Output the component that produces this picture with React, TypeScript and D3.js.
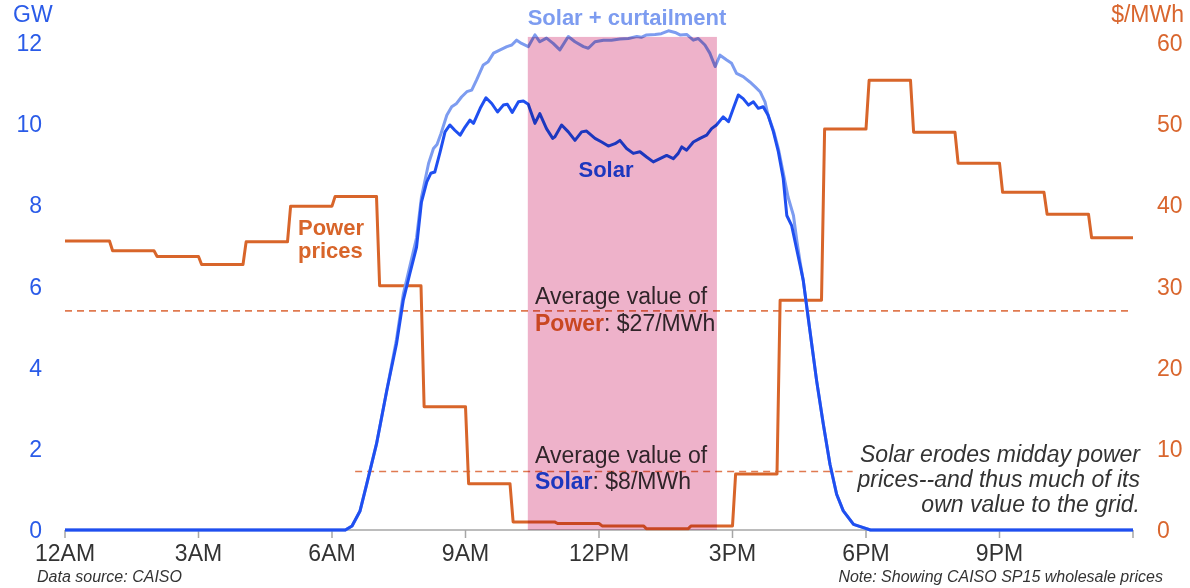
import React from "react";
import * as d3 from "d3";

// ---------- data ----------
const priceHourly = [
  35.6, 34.4, 33.7, 32.7, 35.5, 39.9, 41.1, 30.1, 15.2, 5.7, 1.0, 0.8,
  0.5, 0.15, 0.5, 6.9, 28.3, 49.4, 55.4, 49.0, 45.2, 41.6, 38.9, 36.0,
];

const solarPoints: [number, number][] = [
  [0, 0], [6.3, 0], [6.45, 0.1], [6.63, 0.47], [6.78, 1.13], [7.0, 2.12], [7.23, 3.43],
  [7.45, 4.59], [7.6, 5.65], [7.75, 6.32], [7.9, 6.97], [8.01, 8.08], [8.13, 8.58],
  [8.22, 8.79], [8.31, 8.82], [8.43, 9.32], [8.54, 9.81], [8.65, 9.98], [8.76, 9.85],
  [8.88, 9.73], [8.99, 9.93], [9.1, 10.1], [9.18, 10.02], [9.33, 10.39], [9.46, 10.65],
  [9.59, 10.51], [9.72, 10.3], [9.85, 10.47], [9.94, 10.49], [10.05, 10.29], [10.19, 10.55],
  [10.3, 10.57], [10.41, 10.49], [10.56, 10.02], [10.67, 10.26], [10.82, 9.89], [10.96, 9.65],
  [11.01, 9.69], [11.16, 9.98], [11.31, 9.81], [11.46, 9.6], [11.61, 9.81], [11.72, 9.83],
  [11.91, 9.65], [12.06, 9.56], [12.21, 9.46], [12.36, 9.52], [12.47, 9.6], [12.62, 9.4],
  [12.77, 9.28], [12.92, 9.32], [13.07, 9.19], [13.22, 9.07], [13.37, 9.15], [13.52, 9.23],
  [13.67, 9.15], [13.78, 9.28], [13.86, 9.44], [13.97, 9.36], [14.12, 9.56], [14.27, 9.65],
  [14.42, 9.73], [14.53, 9.89], [14.64, 9.98], [14.79, 10.18], [14.91, 10.06], [15.02, 10.39],
  [15.13, 10.72], [15.24, 10.63], [15.36, 10.47], [15.47, 10.55], [15.58, 10.39], [15.69, 10.43],
  [15.8, 10.22], [15.92, 9.81], [16.03, 9.32], [16.14, 8.66], [16.22, 7.75], [16.33, 7.5],
  [16.44, 6.93], [16.52, 6.52], [16.59, 6.15], [16.74, 4.91], [16.89, 3.68], [17.04, 2.61],
  [17.19, 1.62], [17.34, 0.88], [17.49, 0.47], [17.72, 0.14], [17.94, 0.06], [18.1, 0], [24, 0],
];

const curtailPoints: [number, number][] = [
  [0, 0], [6.3, 0], [6.45, 0.1], [6.63, 0.47], [6.78, 1.13], [7.0, 2.12], [7.23, 3.43],
  [7.45, 4.7], [7.6, 5.8], [7.75, 6.5], [7.9, 7.2], [8.01, 8.2], [8.17, 9.03], [8.28, 9.4],
  [8.36, 9.5], [8.45, 9.77], [8.58, 10.22], [8.69, 10.43], [8.8, 10.51], [8.91, 10.67],
  [9.03, 10.8], [9.14, 10.84], [9.25, 11.09], [9.4, 11.46], [9.51, 11.54], [9.63, 11.75],
  [9.78, 11.83], [9.93, 11.91], [10.04, 11.95], [10.15, 12.07], [10.26, 11.99], [10.41, 11.91],
  [10.56, 12.2], [10.67, 12.03], [10.82, 12.12], [10.97, 11.99], [11.12, 11.83], [11.31, 12.16],
  [11.46, 12.03], [11.65, 11.91], [11.76, 11.87], [11.91, 12.03], [12.1, 12.07], [12.28, 12.07],
  [12.47, 12.1], [12.66, 12.11], [12.85, 12.16], [12.95, 12.14], [13.07, 12.2], [13.26, 12.21],
  [13.4, 12.23], [13.56, 12.3], [13.71, 12.26], [13.82, 12.2], [13.97, 12.21], [14.12, 12.07],
  [14.23, 12.11], [14.38, 11.95], [14.49, 11.75], [14.61, 11.42], [14.72, 11.7], [14.87, 11.58],
  [14.98, 11.5], [15.09, 11.25], [15.24, 11.17], [15.39, 11.04], [15.51, 10.92], [15.62, 10.8],
  [15.73, 10.55], [15.8, 10.22], [15.92, 9.85], [16.03, 9.4], [16.14, 8.8], [16.25, 8.2],
  [16.37, 7.75], [16.45, 7.1], [16.52, 6.6], [16.59, 6.15], [16.74, 4.91], [16.89, 3.68],
  [17.04, 2.61], [17.19, 1.62], [17.34, 0.88], [17.49, 0.47], [17.72, 0.14], [17.94, 0.06],
  [18.1, 0], [24, 0],
];

const curtailWindow = [10.4, 14.65]; // hours
const curtailTop = 12.15; // GW
const avgPowerPrice = 27; // $/MWh, drawn across the whole day
const avgSolarPrice = 7.2; // $/MWh line position
const avgSolarSpan = [6.52, 17.7]; // hours

const xTickHours = [0, 3, 6, 9, 12, 15, 18, 21, 24];
const xTickLabels = ["12AM", "3AM", "6AM", "9AM", "12PM", "3PM", "6PM", "9PM", ""];
const leftTicks = [0, 2, 4, 6, 8, 10, 12];
const rightTicks = [0, 10, 20, 30, 40, 50, 60];

// ---------- styling ----------
const FONT = "'Liberation Sans', Arial, Helvetica, sans-serif";
const ORANGE = "#d8652a";
const BLUE = "#1f4ff0";
const LIGHTBLUE = "#7d9cf0";
const PINK = "#eeb2ca";
const TEXT = "#333333";

export default function App() {
  const W = 1190;
  const H = 588;
  const x = d3.scaleLinear().domain([0, 24]).range([65, 1133]);
  const yL = d3.scaleLinear().domain([0, 12]).range([530, 43]);
  const yR = d3.scaleLinear().domain([0, 60]).range([530, 43]);

  const ramp = 0.07;
  const pricePts: [number, number][] = priceHourly.flatMap((v, i) => [
    [i === 0 ? 0 : i + ramp, v] as [number, number],
    [i + 1, v] as [number, number],
  ]);

  const priceLine = d3
    .line<[number, number]>()
    .x((d) => x(d[0]))
    .y((d) => yR(d[1]));
  const solarLine = d3
    .line<[number, number]>()
    .x((d) => x(d[0]))
    .y((d) => yL(d[1]))
    .curve(d3.curveLinear);

  return (
    <div style={{ position: "absolute", left: 0, top: 0 }}>
      <svg width={W} height={H} style={{ display: "block", background: "#fff", fontFamily: FONT }}>
        <rect x={0} y={0} width={W} height={H} fill="#fff" />
        {/* axis */}
        <line x1={x(0)} x2={x(24)} y1={yL(0)} y2={yL(0)} stroke="#a6a6a6" strokeWidth={1.5} />
        {xTickHours.map((h, i) => (
          <g key={"xt" + i}>
            <line x1={x(h)} x2={x(h)} y1={yL(0)} y2={yL(0) + 8} stroke="#a6a6a6" strokeWidth={1.5} />
            <text x={x(h)} y={561} textAnchor="middle" fontSize={23} fill={TEXT}>
              {xTickLabels[i]}
            </text>
          </g>
        ))}
        {leftTicks.map((t) => (
          <text key={"l" + t} x={42} y={yL(t) + 8} textAnchor="end" fontSize={23} fill="#2a5be8">
            {t}
          </text>
        ))}
        <text x={13} y={22} fontSize={23} fill="#2a5be8">GW</text>
        {rightTicks.map((t) => (
          <text key={"r" + t} x={1157} y={yR(t) + 8} textAnchor="start" fontSize={23} fill="#d9662e">
            {t}
          </text>
        ))}
        <text x={1184} y={22} textAnchor="end" fontSize={23} fill="#d9662e">$/MWh</text>

        {/* average lines */}
        <line
          x1={x(0)} x2={x(24)} y1={yR(avgPowerPrice)} y2={yR(avgPowerPrice)}
          stroke="#e07a50" strokeWidth={1.6} strokeDasharray="7,5"
        />
        <line
          x1={x(avgSolarSpan[0])} x2={x(avgSolarSpan[1])} y1={yR(avgSolarPrice)} y2={yR(avgSolarPrice)}
          stroke="#e07a50" strokeWidth={1.6} strokeDasharray="7,5"
        />

        {/* series */}
        <path d={priceLine(pricePts) ?? ""} fill="none" stroke={ORANGE} strokeWidth={3} strokeLinejoin="round" />
        <path d={solarLine(curtailPoints) ?? ""} fill="none" stroke={LIGHTBLUE} strokeWidth={3} strokeLinejoin="round" />
        <path d={solarLine(solarPoints) ?? ""} fill="none" stroke={BLUE} strokeWidth={3} strokeLinejoin="round" />

        {/* labels */}
        <text x={627} y={25} textAnchor="middle" fontSize={22} fontWeight="bold" fill={LIGHTBLUE}>
          Solar + curtailment
        </text>
        <text x={606} y={177} textAnchor="middle" fontSize={22} fontWeight="bold" fill={BLUE}>
          Solar
        </text>
        <text x={298} y={235} fontSize={22} fontWeight="bold" fill={ORANGE}>Power</text>
        <text x={298} y={258} fontSize={22} fontWeight="bold" fill={ORANGE}>prices</text>

        <text x={535} y={304} fontSize={23} fill={TEXT}>Average value of</text>
        <text x={535} y={331} fontSize={23} fill={TEXT}>
          <tspan fontWeight="bold" fill={ORANGE}>Power</tspan>: $27/MWh
        </text>
        <text x={535} y={463} fontSize={23} fill={TEXT}>Average value of</text>
        <text x={535} y={489} fontSize={23} fill={TEXT}>
          <tspan fontWeight="bold" fill={BLUE}>Solar</tspan>: $8/MWh
        </text>

        {/* curtailment window */}
        <rect
          x={x(curtailWindow[0])}
          y={yL(curtailTop)}
          width={x(curtailWindow[1]) - x(curtailWindow[0])}
          height={yL(0) - yL(curtailTop)}
          fill={PINK}
          style={{ mixBlendMode: "multiply" }}
        />

        {/* annotation */}
        <g fontStyle="italic" fontSize={23} fill={TEXT} textAnchor="end">
          <text x={1140} y={462}>Solar erodes midday power</text>
          <text x={1140} y={487}>prices--and thus much of its</text>
          <text x={1140} y={512}>own value to the grid.</text>
        </g>
        <text x={37} y={582} fontStyle="italic" fontSize={16} fill={TEXT}>Data source: CAISO</text>
        <text x={1163} y={582} fontStyle="italic" fontSize={16} fill={TEXT} textAnchor="end">
          Note: Showing CAISO SP15 wholesale prices
        </text>
      </svg>
    </div>
  );
}
